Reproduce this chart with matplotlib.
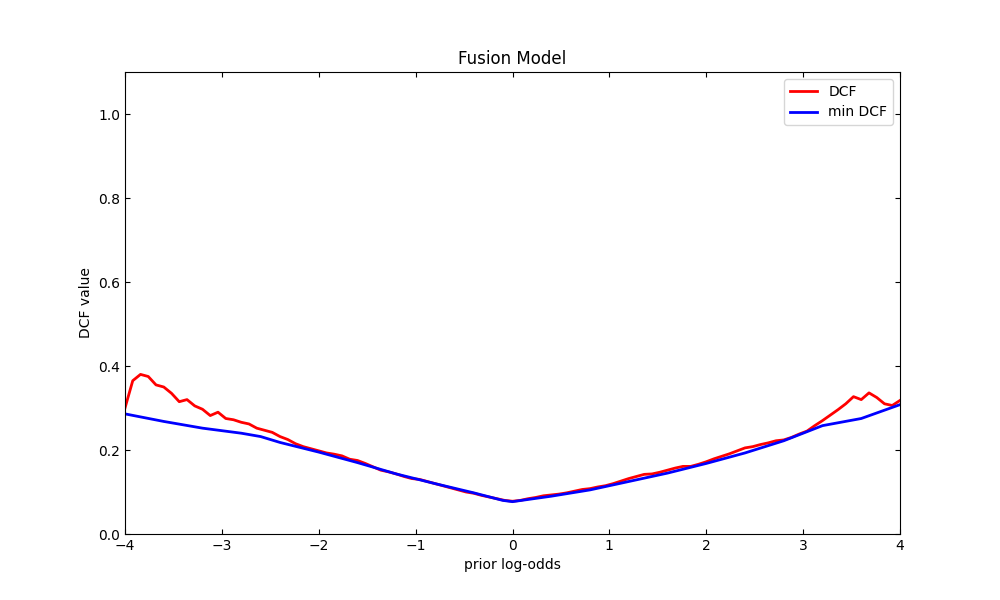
import numpy as np
import matplotlib
matplotlib.use("Agg")
import matplotlib.pyplot as plt

# DCF sampled every 0.08 in prior log-odds
dcf_x = np.round(np.arange(-4, 4.0001, 0.08), 2)
dcf = [0.300, 0.365, 0.380, 0.375, 0.355, 0.350, 0.335, 0.315, 0.320, 0.305,
       0.297, 0.282, 0.290, 0.275, 0.272, 0.266, 0.262, 0.252, 0.247, 0.242,
       0.232, 0.225, 0.215, 0.208, 0.203, 0.198, 0.193, 0.190, 0.186, 0.178,
       0.175, 0.168, 0.160, 0.152, 0.148, 0.143, 0.137, 0.132, 0.130, 0.125,
       0.120, 0.115, 0.110, 0.105, 0.100, 0.097, 0.092, 0.088, 0.084, 0.080,
       0.078, 0.080, 0.084, 0.087, 0.091, 0.093, 0.095, 0.098, 0.102, 0.106,
       0.108, 0.112, 0.115, 0.120, 0.126, 0.132, 0.137, 0.142, 0.143, 0.147,
       0.152, 0.157, 0.161, 0.161, 0.166, 0.172, 0.179, 0.185, 0.191, 0.198,
       0.205, 0.208, 0.213, 0.217, 0.222, 0.224, 0.230, 0.238, 0.245, 0.258,
       0.270, 0.283, 0.296, 0.310, 0.327, 0.320, 0.336, 0.325, 0.310, 0.306,
       0.318]

min_x = [-4, -3.6, -3.2, -2.8, -2.6, -2.4, -2.0, -1.6, -1.2, -0.8, -0.4, -0.1, 0,
         0.4, 0.8, 1.2, 1.6, 2.0, 2.4, 2.8, 3.0, 3.2, 3.6, 4.0]
min_dcf = [0.286, 0.268, 0.252, 0.240, 0.232, 0.218, 0.195, 0.170, 0.143, 0.120,
           0.098, 0.080, 0.077, 0.090, 0.105, 0.125, 0.145, 0.168, 0.193, 0.222,
           0.240, 0.258, 0.275, 0.308]

fig, ax = plt.subplots(figsize=(10, 6), dpi=100)
ax.plot(dcf_x, dcf, color='red', linewidth=2, label='DCF')
ax.plot(min_x, min_dcf, color='blue', linewidth=2, label='min DCF')
ax.set_xlim(-4, 4)
ax.set_ylim(0, 1.1)
ax.set_yticks([0, 0.2, 0.4, 0.6, 0.8, 1.0])
ax.tick_params(direction='in', top=True, right=True)
ax.set_xlabel('prior log-odds')
ax.set_ylabel('DCF value')
ax.set_title('Fusion Model')
ax.legend(loc='upper right')
fig.savefig('out.png')
